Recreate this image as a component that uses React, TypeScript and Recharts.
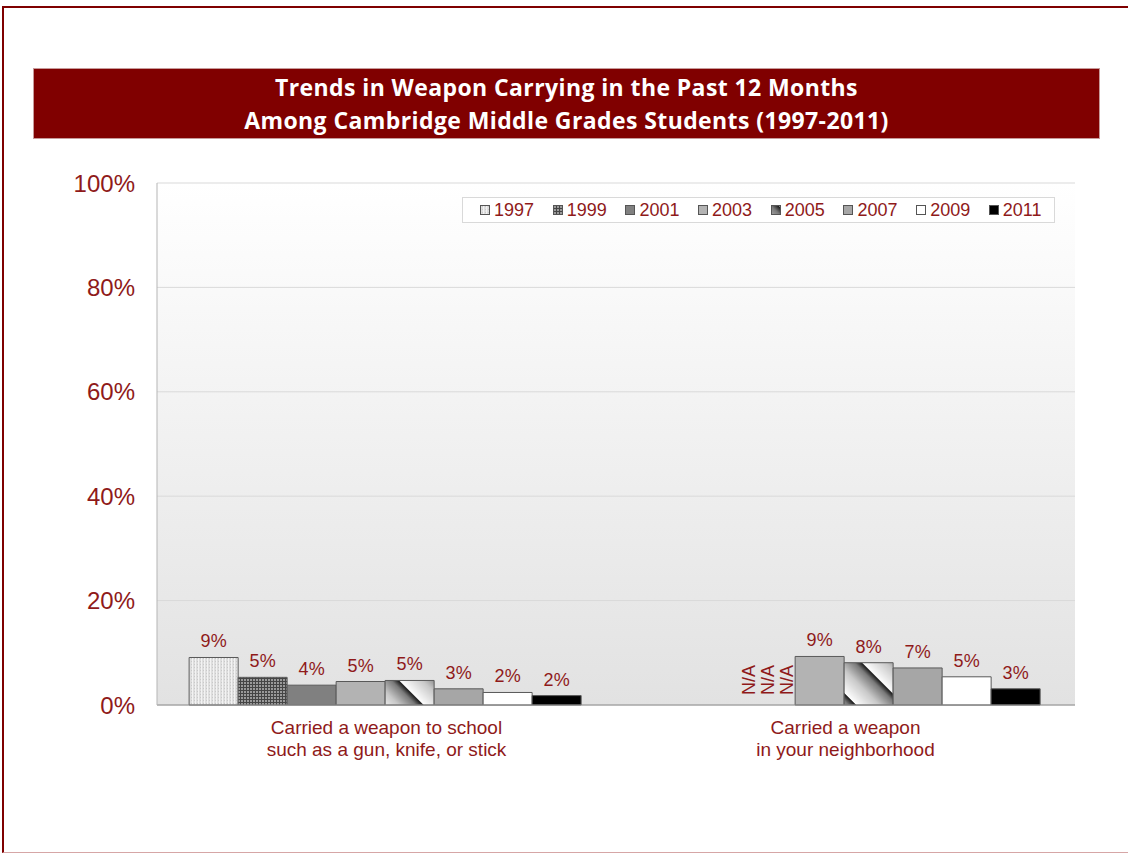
import React from 'react';
import { BarChart, Bar, XAxis, YAxis, CartesianGrid, Legend, LabelList, Cell } from 'recharts';

const categories = [
  'Carried a weapon to school|such as a gun, knife, or stick',
  'Carried a weapon|in your neighborhood',
];
const years = ['1997', '1999', '2001', '2003', '2005', '2007', '2009', '2011'];
const schoolValues = [9.1, 5.3, 3.8, 4.5, 4.7, 3.1, 2.4, 1.8];
const neighborhoodValues = [null, null, null, 9.3, 8.1, 7.1, 5.4, 3.1];
const yTicks = [0, 20, 40, 60, 80, 100];
const titleLines = [
  'Trends in Weapon Carrying in the Past 12 Months',
  'Among Cambridge Middle Grades Students (1997-2011)',
];

const seriesValues: (number | null)[][] = [schoolValues, neighborhoodValues];
// N/A entries are kept as invisible 0-value bars so their slot still carries a label
const data = categories.map((c, ci) => {
  const row: any = { category: c };
  years.forEach((y, yi) => {
    const v = seriesValues[ci][yi];
    row['y' + y] = v == null ? 0 : v;
    row['na' + y] = v == null;
  });
  return row;
});

const RED = '#8f1a1a';
const FONT = '"Liberation Sans", Arial, sans-serif';
const fills = ['url(#p1997)', 'url(#p1999)', '#808080', '#b3b3b3', 'url(#p2005)', '#a6a6a6', '#ffffff', '#000000'];
const naShift = [76, 46, 16, 0, 0, 0, 0, 0];

const makeLabel = (si: number) => (props: any) => {
  const { x, y, width, height, value } = props;
  const cx = Number(x) + Number(width) / 2;
  const isNA = Number(value) === 0;
  if (isNA) {
    const nx = cx + naShift[si];
    const ny = Number(y) + Number(height) - 10;
    return (
      <text
        transform={`translate(${nx},${ny}) rotate(-90)`}
        textAnchor="start"
        dominantBaseline="central"
        fill={RED}
        fontSize={18}
        fontFamily={FONT}
      >
        N/A
      </text>
    );
  }
  return (
    <text x={cx} y={Number(y) - 10} textAnchor="middle" fill={RED} fontSize={18} fontFamily={FONT}>
      {Math.round(Number(value))}%
    </text>
  );
};

const XTick = (props: any) => {
  const { x, y, payload } = props;
  const lines = String(payload.value).split('|');
  return (
    <g transform={`translate(${x},${y})`}>
      <text textAnchor="middle" fill={RED} fontSize={19} fontFamily={FONT}>
        {lines.map((l, i) => (
          <tspan key={i} x={0} dy={i === 0 ? 21 : 22}>
            {l}
          </tspan>
        ))}
      </text>
    </g>
  );
};

const LegendContent = (props: any) => {
  const payload = props.payload || [];
  return (
    <div
      style={{
        display: 'flex',
        alignItems: 'center',
        height: 26,
        width: 593,
        boxSizing: 'border-box',
        border: '1px solid #d9d9d9',
        background: '#ffffff',
        paddingLeft: 17,
        fontFamily: FONT,
      }}
    >
      {payload.map((entry: any, i: number) => (
        <div key={i} style={{ display: 'flex', alignItems: 'center', width: 72.7, flex: '0 0 auto' }}>
          <svg width={10} height={10} style={{ display: 'block' }}>
            <rect x={0.5} y={0.5} width={9} height={9} fill={fills[i]} stroke="#555555" strokeWidth={1} />
          </svg>
          <span style={{ marginLeft: 4, color: RED, fontSize: 18, lineHeight: '20px' }}>{entry.value}</span>
        </div>
      ))}
    </div>
  );
};

export default function App() {
  return (
    <div style={{ position: 'absolute', left: 0, top: 0, width: 1128, height: 855, background: '#ffffff', overflow: 'hidden' }}>
      <div
        style={{
          position: 'absolute',
          left: 2,
          top: 6,
          width: 1140,
          height: 847,
          boxSizing: 'border-box',
          borderTop: '2px solid #7f0000',
          borderLeft: '2px solid #7f0000',
          borderBottom: '1px solid #d6a6a6',
        }}
      />
      <div
        style={{
          position: 'absolute',
          left: 33,
          top: 68,
          width: 1067,
          height: 71,
          background: '#800000',
          boxSizing: 'border-box',
          border: '1px solid #c79a9a',
          color: '#ffffff',
          fontFamily: '"Open Sans", Lato, sans-serif',
          fontWeight: 700,
          fontSize: 23,
          letterSpacing: 0.4,
          textAlign: 'center',
          lineHeight: '33px',
          paddingTop: 2,
        }}
      >
        {titleLines.map((t, i) => (
          <div key={i}>{t}</div>
        ))}
      </div>
      <div style={{ position: 'absolute', left: 0, top: 0 }}>
        <BarChart
          width={1128}
          height={855}
          data={data}
          margin={{ top: 183, right: 53, bottom: 90, left: 77 }}
          barCategoryGap="7%"
          barGap={0}
        >
          <defs>
            <linearGradient id="bgGrad" x1="0" y1="0" x2="0" y2="1">
              <stop offset="0" stopColor="#ffffff" />
              <stop offset="1" stopColor="#e2e2e2" />
            </linearGradient>
            <pattern id="p1997" width="3" height="3" patternUnits="userSpaceOnUse">
              <rect width="3" height="3" fill="#dedede" />
              <rect x="0" y="0" width="1" height="3" fill="#f3f3f3" />
              <rect x="2" y="1" width="1" height="1" fill="#c9c9c9" />
            </pattern>
            <pattern id="p1999" width="3" height="3" patternUnits="userSpaceOnUse">
              <rect width="3" height="3" fill="#454545" />
              <rect x="1" y="1" width="2" height="2" fill="#9a9a9a" />
            </pattern>
            <linearGradient id="g2005" x1="0" y1="0" x2="34" y2="0" gradientUnits="userSpaceOnUse">
              <stop offset="0" stopColor="#f4f4f4" />
              <stop offset="0.4" stopColor="#c8c8c8" />
              <stop offset="0.75" stopColor="#7a7a7a" />
              <stop offset="0.9" stopColor="#1a1a1a" />
              <stop offset="0.91" stopColor="#ffffff" />
              <stop offset="1" stopColor="#f4f4f4" />
            </linearGradient>
            <pattern id="p2005" x="8" width="34" height="34" patternUnits="userSpaceOnUse" patternTransform="rotate(-45)">
              <rect width="34" height="34" fill="url(#g2005)" />
            </pattern>
          </defs>
          <CartesianGrid vertical={false} stroke="#d9d9d9" fill="url(#bgGrad)" />
          <XAxis
            dataKey="category"
            height={60}
            interval={0}
            tickLine={false}
            axisLine={{ stroke: '#8c8c8c' }}
            tick={<XTick />}
          />
          <YAxis
            domain={[0, 100]}
            ticks={yTicks}
            width={80}
            tickLine={false}
            tickMargin={16}
            axisLine={{ stroke: '#b5b5b5' }}
            tickFormatter={(v: number) => `${v}%`}
            tick={{ fill: RED, fontSize: 24, fontFamily: FONT }}
          />
          <YAxis
            yAxisId="right"
            orientation="right"
            domain={[0, 100]}
            width={0}
            tick={false}
            tickLine={false}
            axisLine={{ stroke: '#dcdcdc' }}
          />
          <Legend
            layout="vertical"
            align="center"
            verticalAlign="middle"
            wrapperStyle={{ left: 462, top: 197, width: 593, height: 26 }}
            content={<LegendContent />}
          />
          {years.map((y, i) => (
            <Bar
              key={y}
              dataKey={'y' + y}
              name={y}
              fill={fills[i]}
              stroke="#595959"
              strokeWidth={1}
              minPointSize={1}
              isAnimationActive={false}
            >
              {data.map((row, ri) => (
                <Cell
                  key={ri}
                  fill={row['na' + y] ? 'transparent' : fills[i]}
                  stroke={row['na' + y] ? 'none' : '#595959'}
                />
              ))}
              <LabelList dataKey={'y' + y} content={makeLabel(i)} />
            </Bar>
          ))}
        </BarChart>
      </div>
    </div>
  );
}
